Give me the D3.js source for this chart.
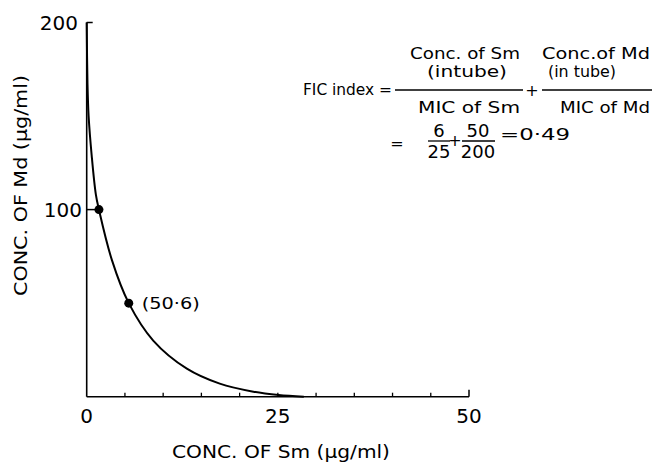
<!DOCTYPE html>
<html>
<head>
<meta charset="utf-8">
<script src="https://cdn.jsdelivr.net/npm/d3@7"></script>
<style>
  html, body { margin: 0; padding: 0; background: #fff; }
  svg { display: block; }
  text { font-family: "DejaVu Sans", sans-serif; fill: #000; }
</style>
</head>
<body>
<svg id="chart" width="657" height="462"></svg>
<script>
// ---- data ----
const curveSm = [0, 0.1, 0.25, 0.65, 1.2, 1.6, 3.3, 5.5, 8.7, 13.1, 17.4, 21.8, 25.1, 28.4];
const curveMd = [200, 168, 150, 129, 108, 100, 73, 50, 30, 15, 7, 2.7, 0.9, 0];
const pointSm = [1.6, 5.5];
const pointMd = [100, 50];
const pointLabels = ["", "(50\u00b76)"];
const xTickValues = [0, 25, 50];
const xMinorTicks = [5, 10, 15, 20, 25, 30, 35, 40, 45];
const yTickValues = [100, 200];

const svg = d3.select("#chart");
const x = d3.scaleLinear().domain([0, 50]).range([86.7, 469]);
const y = d3.scaleLinear().domain([0, 200]).range([396.7, 22.5]);

const g = svg.append("g");

// axes lines
g.append("line").attr("x1", x(0)).attr("x2", x(0)).attr("y1", y(0)).attr("y2", y(200))
  .attr("stroke", "#000").attr("stroke-width", 1.6);
g.append("line").attr("x1", x(0)).attr("x2", x(50)).attr("y1", y(0)).attr("y2", y(0))
  .attr("stroke", "#000").attr("stroke-width", 1.6);

// y ticks (inward)
g.selectAll(".ytick").data(yTickValues).join("line")
  .attr("x1", x(0)).attr("x2", d => d === 200 ? x(0) + 6 : x(0) + 10)
  .attr("y1", d => y(d)).attr("y2", d => y(d))
  .attr("stroke", "#000").attr("stroke-width", 1.5);

// x minor ticks (upward)
g.selectAll(".xminor").data(xMinorTicks).join("line")
  .attr("x1", d => x(d)).attr("x2", d => x(d))
  .attr("y1", y(0)).attr("y2", y(0) - 4)
  .attr("stroke", "#000").attr("stroke-width", 1.3);
g.append("line").attr("x1", x(50)).attr("x2", x(50)).attr("y1", y(0)).attr("y2", y(0) - 7)
  .attr("stroke", "#000").attr("stroke-width", 1.5);

// tick labels
g.selectAll(".ylab").data(yTickValues).join("text")
  .attr("x", d => d === 200 ? 78 : 82)
  .attr("y", d => y(d) + 7.5)
  .attr("text-anchor", "end")
  .style("font-size", "20px")
  .text(d => d);
g.selectAll(".xlab").data(xTickValues).join("text")
  .attr("x", d => x(d))
  .attr("y", 423)
  .attr("text-anchor", "middle")
  .style("font-size", "20px")
  .text(d => d);

// axis titles
g.append("text").attr("x", 172).attr("y", 458)
  .attr("textLength", 218).attr("lengthAdjust", "spacingAndGlyphs")
  .style("font-size", "18px").text("CONC. OF Sm (\u00b5g/ml)");
g.append("text").attr("transform", "translate(27,296) rotate(-90)")
  .attr("textLength", 221).attr("lengthAdjust", "spacingAndGlyphs")
  .style("font-size", "18px").text("CONC. OF Md (\u00b5g/ml)");

// curve
const curveData = curveSm.map((s, i) => [s, curveMd[i]]);
const line = d3.line().x(d => x(d[0])).y(d => y(d[1])).curve(d3.curveCatmullRom.alpha(0.5));
g.append("path").datum(curveData).attr("d", line)
  .attr("fill", "none").attr("stroke", "#000").attr("stroke-width", 2);

// points
const pts = pointSm.map((s, i) => ({ s, m: pointMd[i], label: pointLabels[i] }));
g.selectAll(".pt").data(pts).join("circle")
  .attr("cx", d => x(d.s)).attr("cy", d => y(d.m)).attr("r", 4.5).attr("fill", "#000");
g.selectAll(".ptlab").data(pts.filter(d => d.label)).join("text")
  .attr("x", d => x(d.s) + 13).attr("y", d => y(d.m) + 6)
  .attr("textLength", 58).attr("lengthAdjust", "spacingAndGlyphs")
  .style("font-size", "16px").text(d => d.label);

// formula
const f = svg.append("g");
function t(txt, xx, yy, opts = {}) {
  const el = f.append("text").attr("x", xx).attr("y", yy)
    .style("font-size", (opts.size || 16) + "px").text(txt);
  if (opts.anchor) el.attr("text-anchor", opts.anchor);
  if (opts.len) el.attr("textLength", opts.len).attr("lengthAdjust", "spacingAndGlyphs");
  return el;
}
function hl(x1, x2, yy) {
  f.append("line").attr("x1", x1).attr("x2", x2).attr("y1", yy).attr("y2", yy)
    .attr("stroke", "#000").attr("stroke-width", 1.3);
}
t("FIC index =", 303, 95, { len: 89 });
t("Conc. of Sm", 410, 59, { len: 110, size: 15 });
t("(intube)", 427, 77, { len: 80, size: 15 });
hl(395, 523, 90);
t("MIC of Sm", 418, 113, { len: 102 });
t("+", 532, 96, { anchor: "middle" });
t("Conc.of Md", 542, 59, { len: 108, size: 15 });
t("(in tube)", 548, 77, { len: 68, size: 15 });
hl(542, 652, 90);
t("MIC of Md", 560, 113, { len: 90 });

t("=", 397, 149, { anchor: "middle" });
t("6", 439, 137, { anchor: "middle", size: 18 });
hl(428, 450, 141);
t("25", 439, 158, { anchor: "middle", size: 18 });
t("+", 455, 146, { anchor: "middle" });
t("50", 478, 137, { anchor: "middle", size: 18 });
hl(462, 495, 141);
t("200", 478, 158, { anchor: "middle", size: 18 });
t("=0\u00b749", 500, 140, { len: 70, size: 15 });
</script>
</body>
</html>
